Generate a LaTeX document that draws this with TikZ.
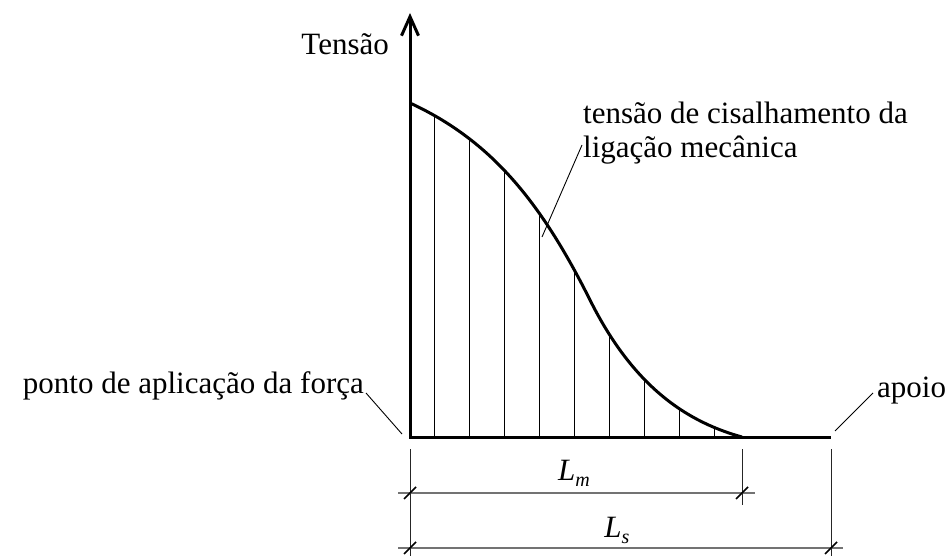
\documentclass[tikz,border=0pt]{standalone}
\usepackage{fontspec}
\setmainfont{Liberation Serif}
\usetikzlibrary{arrows.meta}
\tikzset{
  axisline/.style={line width=3pt, draw=black},
  curveline/.style={line width=3pt, draw=black, line join=round},
  hatch/.style={line width=1pt, draw=black},
  leader/.style={line width=0.9pt, draw=black},
  extline/.style={line width=1pt, draw=black!85},
  dimline/.style={line width=1.1pt, draw=black!55},
  tickmark/.style={line width=1.6pt, draw=black},
  lbl/.style={font=\fontsize{31}{34}\selectfont, inner sep=0pt}
}
\newcommand{\dimlabel}[2]{\itshape #1\raisebox{-6pt}{\fontsize{20}{20}\selectfont #2}}
\newcommand{\shearcurve}{(410,103) .. controls (490,140) and (540,200) .. (590,300)
  .. controls (630,380) and (680,420) .. (742,437)}

\begin{document}
\begin{tikzpicture}[x=1pt,y=-1pt]
    \useasboundingbox (0,0) rectangle (950,556);
    \coordinate (origin) at (410,437);
    \coordinate (mend) at (742,437);
    \coordinate (send) at (831,437);
    \coordinate (top) at (410,13);
    \begin{scope}
      \clip (origin) -- \shearcurve -- cycle;
      \foreach \x in {434,469,...,714} {
        \draw[hatch] (\x,437) -- (\x,90);
      }
    \end{scope}
    \draw[curveline] \shearcurve;
    \draw[axisline,{Straight Barb[length=19pt,width=17pt,line width=3pt]}-] (top) -- (origin) -- (send);
    \node[lbl,anchor=base east] (tensao) at (389,55) {Tensão};
    \node[lbl,anchor=base east] (ponto) at (364,393) {ponto de aplicação da força};
    \node[lbl,anchor=base west] (apoio) at (877,397) {apoio};
    \node[lbl,anchor=base west,align=left] (shear) at (583,158) {tensão de cisalhamento da\\ligação mecânica};
    \coordinate (pontotip) at (402,434);
    \coordinate (apoiotip) at (835,431);
    \coordinate (sheartip) at (542,237);
    \draw[leader] (ponto.base east) ++(2,0) coordinate (pontotail) -- (pontotip);
    \draw[leader] (apoio.base west) ++(-4,-4) coordinate (apoiotail) -- (apoiotip);
    \draw[leader] (sheartip) -- (582,145) coordinate (sheartail);
    \draw[extline] (410,449) -- (410,556);
    \draw[extline] (742,449) -- (742,505);
    \draw[extline] (831,449) -- (831,556);
    \draw[dimline] (398,493) -- (755,493);
    \draw[dimline] (398,548) -- (843,548);
    \foreach \x/\y in {410/493,742/493,410/548,831/548} {
      \draw[tickmark] (\x-6,\y+6) -- (\x+6,\y-6);
    }
    \node[lbl,anchor=base] (lm) at (574,480) {\dimlabel{L}{m}};
    \node[lbl,anchor=base] (ls) at (617,537) {\dimlabel{L}{s}};
  \end{tikzpicture}
\end{document}
